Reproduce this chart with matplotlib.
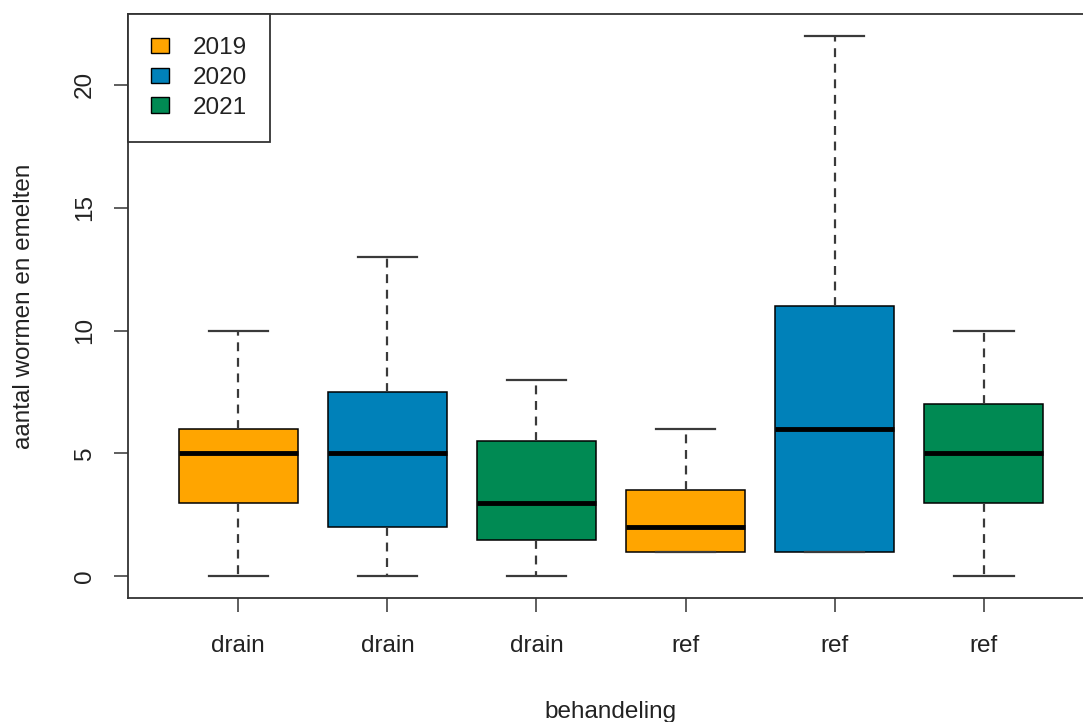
import matplotlib
matplotlib.use("Agg")
import matplotlib.pyplot as plt
from matplotlib.patches import Patch

# Summary statistics per group (treatment x year)
groups = ["drain", "drain", "drain", "ref", "ref", "ref"]
years = ["2019", "2020", "2021", "2019", "2020", "2021"]
whisker_low = [0, 0, 0, 1, 1, 0]
quartile_1 = [3, 2, 1.5, 1, 1, 3]
medians = [5, 5, 3, 2, 6, 5]
quartile_3 = [6, 7.5, 5.5, 3.5, 11, 7]
whisker_high = [10, 13, 8, 6, 22, 10]

legend_years = ["2019", "2020", "2021"]
year_colors = {"2019": "#FFA500", "2020": "#0081B9", "2021": "#008A53"}

plt.rcParams["font.family"] = ["Liberation Sans", "DejaVu Sans"]
FS = 17.5

fig = plt.figure(figsize=(10.83, 7.22), dpi=100)
ax = fig.add_axes([128 / 1083, 124 / 722, 966 / 1083, 584 / 722])

stats = []
for g, lo, q1, med, q3, hi in zip(groups, whisker_low, quartile_1, medians,
                                  quartile_3, whisker_high):
    stats.append(dict(label=g, whislo=lo, q1=q1, med=med, q3=q3, whishi=hi,
                      fliers=[]))

positions = list(range(1, len(stats) + 1))
bp = ax.bxp(stats, positions=positions, widths=0.8, patch_artist=True,
            showfliers=False,
            boxprops=dict(edgecolor="black", linewidth=1.1),
            medianprops=dict(color="black", linewidth=3.5, solid_capstyle="butt"),
            whiskerprops=dict(color="#3a3a3a", linewidth=1.6, linestyle=(0, (4, 3))),
            capprops=dict(color="#3a3a3a", linewidth=1.6),
            capwidths=0.4)

for box, yr in zip(bp["boxes"], years):
    box.set_facecolor(year_colors[yr])

ax.set_xlim(0.26, 6.74)
ax.set_ylim(-0.88, 22.88)
ax.set_yticks([0, 5, 10, 15, 20])
ax.set_xticks(positions)
ax.set_xticklabels(groups)
for lab in ax.get_yticklabels():
    lab.set_rotation(90)
    lab.set_verticalalignment("center")

ax.tick_params(axis="both", labelsize=FS, length=10, width=1.1, color="#333333",
               labelcolor="#222222")
ax.tick_params(axis="x", pad=17)
ax.tick_params(axis="y", pad=13)

for sp in ax.spines.values():
    sp.set_linewidth(1.3)
    sp.set_color("#333333")

ax.set_xlabel("behandeling", fontsize=FS, color="#222222", labelpad=31)
ax.set_ylabel("aantal wormen en emelten", fontsize=FS, color="#222222", labelpad=28)

handles = [Patch(facecolor=year_colors[y], edgecolor="black", linewidth=1.0)
           for y in legend_years]
leg = ax.legend(handles, legend_years, loc="upper left", fontsize=FS,
                borderaxespad=0, fancybox=False, framealpha=1,
                edgecolor="#333333", handlelength=0.75, handleheight=0.6,
                handletextpad=0.95, labelspacing=0.32, borderpad=0.95)
leg.get_frame().set_linewidth(1.3)
for t in leg.get_texts():
    t.set_color("#222222")

fig.savefig("out.png", dpi=100)
